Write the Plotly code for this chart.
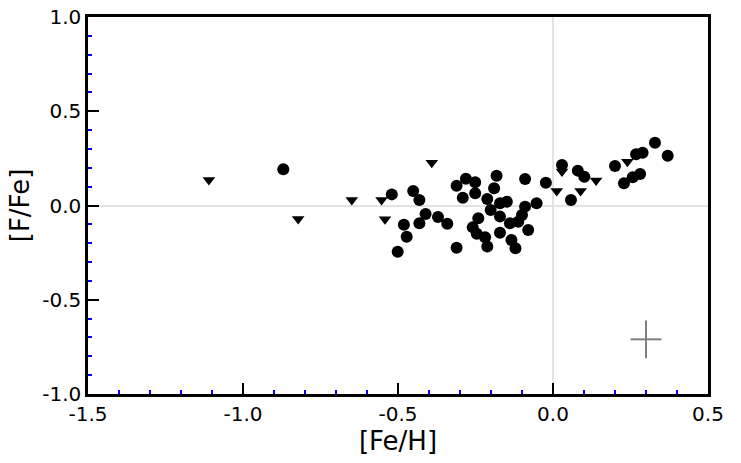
import plotly.graph_objects as go

# detections
feh_det = [-0.870, -0.520, -0.451, -0.431, -0.411, -0.481, -0.431, -0.472, -0.501, -0.371,
           -0.341, -0.311, -0.311, -0.281, -0.251, -0.291, -0.251, -0.182, -0.190, -0.212,
           -0.241, -0.259, -0.246, -0.219, -0.212, -0.201, -0.090, -0.023, -0.053, -0.090,
           -0.100, -0.149, -0.171, -0.171, -0.139, -0.112, -0.080, -0.171, -0.134, -0.121,
           0.029, 0.058, 0.080, 0.101, 0.200, 0.229, 0.257, 0.281, 0.268, 0.289, 0.329, 0.370]
ffe_det = [0.192, 0.059, 0.077, 0.029, -0.045, -0.102, -0.094, -0.166, -0.245, -0.061,
           -0.097, -0.224, 0.105, 0.142, 0.123, 0.041, 0.065, 0.158, 0.092, 0.034,
           -0.068, -0.116, -0.150, -0.169, -0.218, -0.024, 0.141, 0.121, 0.012, -0.006,
           -0.050, 0.020, 0.012, -0.059, -0.094, -0.086, -0.130, -0.144, -0.183, -0.227,
           0.215, 0.029, 0.185, 0.153, 0.210, 0.118, 0.150, 0.167, 0.272, 0.280, 0.333, 0.264]

# upper limits
feh_lim = [-1.110, -0.822, -0.649, -0.553, -0.542, -0.391, 0.012, 0.029, 0.089, 0.139, 0.240]
ffe_lim = [0.135, -0.072, 0.029, 0.029, -0.073, 0.227, 0.077, 0.180, 0.077, 0.132, 0.232]

# typical error bar
err_pos = [0.30, -0.71]
err_feh = 0.05
err_ffe = 0.10

x_ticks = [-1.5, -1.0, -0.5, 0.0, 0.5]
x_labels = ["-1.5", "-1.0", "-0.5", "0.0", "0.5"]
y_ticks = [-1.0, -0.5, 0.0, 0.5, 1.0]
y_labels = ["-1.0", "-0.5", "0.0", "0.5", "1.0"]

fig = go.Figure()

fig.add_trace(go.Scatter(
    x=feh_det, y=ffe_det, mode="markers",
    marker=dict(symbol="circle", size=12, color="black", line=dict(width=0)),
    hoverinfo="skip",
))
fig.add_trace(go.Scatter(
    x=feh_lim, y=ffe_lim, mode="markers",
    marker=dict(symbol="triangle-down", size=11, color="black", line=dict(width=0)),
    hoverinfo="skip",
))
fig.add_trace(go.Scatter(
    x=[err_pos[0]], y=[err_pos[1]], mode="markers",
    marker=dict(size=0.1, color="rgba(0,0,0,0)"),
    error_x=dict(type="data", array=[err_feh], color="#808080", thickness=2, width=0),
    error_y=dict(type="data", array=[err_ffe], color="#808080", thickness=2, width=0),
    hoverinfo="skip",
))

axis_common = dict(
    showline=True, linecolor="black", linewidth=2.5, mirror=True,
    showgrid=False,
    zeroline=True, zerolinecolor="#e3e3e3", zerolinewidth=2,
    ticks="inside", ticklen=11, tickwidth=2, tickcolor="black",
    minor=dict(ticks="inside", dtick=0.1, ticklen=4, tickwidth=2, tickcolor="blue"),
    tickfont=dict(family="DejaVu Sans", size=20, color="black"),
    automargin=False,
)

fig.update_xaxes(
    range=[-1.5, 0.5], tickvals=x_ticks, ticktext=x_labels,
    title=dict(text="[Fe/H]", font=dict(family="DejaVu Sans", size=26, color="black"), standoff=6),
    **axis_common,
)
fig.update_yaxes(
    range=[-1.0, 1.0], tickvals=y_ticks, ticktext=y_labels,
    title=dict(text="[F/Fe]", font=dict(family="DejaVu Sans", size=26, color="black"), standoff=6),
    **axis_common,
)

fig.update_layout(
    width=741, height=463,
    margin=dict(l=88, r=33, t=17, b=69),
    showlegend=False,
    plot_bgcolor="white",
    paper_bgcolor="white",
)

fig.write_html("out.html", config={"displayModeBar": False},
               post_script="document.body.style.margin='0';")
